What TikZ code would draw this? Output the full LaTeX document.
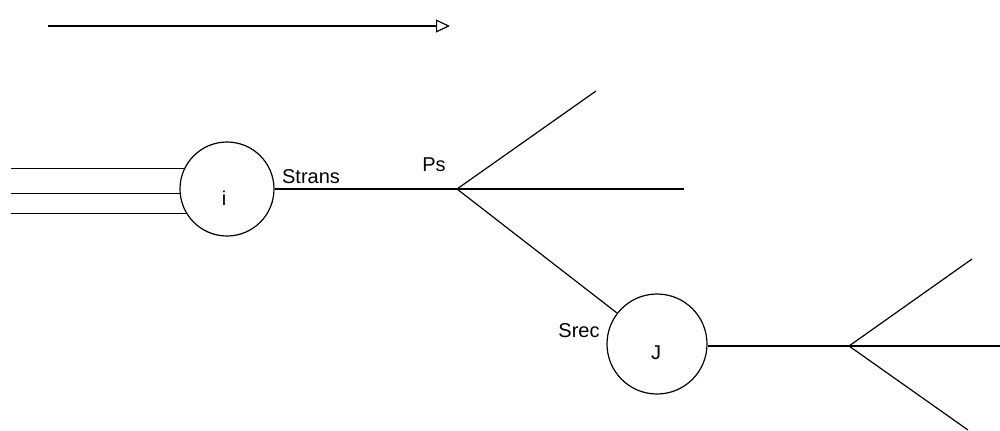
\documentclass[tikz,border=0pt]{standalone}
\usepackage{fontspec}
\setmainfont{Liberation Sans}
\usetikzlibrary{arrows.meta,positioning}
\tikzset{site/.style={draw=black,circle,inner sep=0pt,line width=0.6pt},
 wire/.style={line width=0.6pt},
 lbl/.style={inner sep=0pt,font=\fontsize{10}{12}\selectfont}}
\begin{document}
\begin{tikzpicture}[x=0.5pt,y=-0.5pt]
\useasboundingbox[fill=white](0,0) rectangle (1000,430);
% direction arrow
\coordinate (d0) at (48,26);
\coordinate (d1) at (450,26);
\draw[wire,-{Triangle[open,length=7pt,width=6.5pt]}](d0)--(d1);
% transmitter i
\node[site,minimum size=47pt](ci) at(227,189){};
\node[lbl](ilbl) at(224,198){i};
\coordinate (x0) at (11,0);
\draw[wire](ci.155)--(ci.155 -| x0);
\draw[wire](ci.185)--(ci.185 -| x0);
\draw[wire](ci.211)--(ci.211 -| x0);
\node[lbl](strans) at(311,177){Strans};
\coordinate (ps) at (457,189);
\draw[wire](ci.east)--(ps);
\node[lbl](pslbl) at(434,165){Ps};
\coordinate (a1) at (596,91);
\coordinate (a2) at (684,189);
\draw[wire](ps)--(a1);
\draw[wire](ps)--(a2);
% receiver J
\node[site,minimum size=50pt](cj) at(657,344){};
\node[lbl](jlbl) at(656,353){J};
\node[lbl](srec) at(579,331){Srec};
\draw[wire](ps)--(cj);
\coordinate (q) at (849,346);
\draw[wire](cj.east |- q)--(q);
\coordinate (b1) at (972,259);
\coordinate (b2) at (1000,346);
\coordinate (b3) at (968,430);
\draw[wire](q)--(b1);
\draw[wire](q)--(b2);
\draw[wire](q)--(b3);
\end{tikzpicture}
\end{document}
